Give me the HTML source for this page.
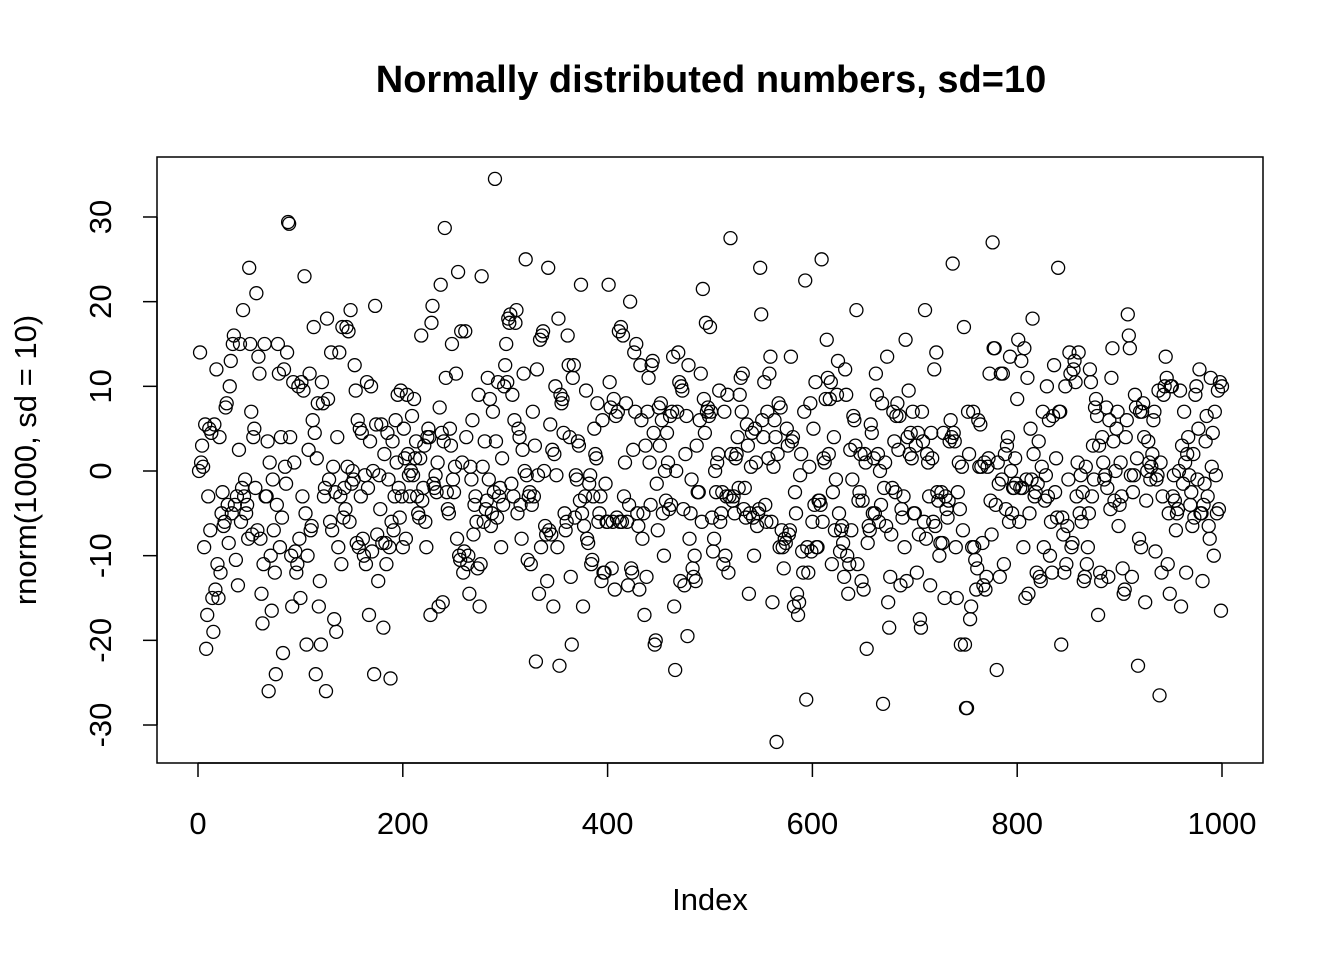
<!DOCTYPE html>
<html><head><meta charset="utf-8"><title>Normally distributed numbers</title>
<style>
html,body{margin:0;padding:0;background:#fff;}
svg{display:block;font-family:"Liberation Sans",Arial,sans-serif;}
</style></head>
<body>
<svg id="chart" width="1344" height="960" viewBox="0 0 1344 960" xmlns="http://www.w3.org/2000/svg">
<rect width="1344" height="960" fill="#fff"/>
<text x="711" y="92" text-anchor="middle" font-size="38" font-weight="bold">Normally distributed numbers, sd=10</text>
<rect x="157" y="157" width="1106" height="606" fill="none" stroke="#000" stroke-width="1.5"/>
<g id="xaxis"></g>
<g id="yaxis"></g>
<text x="710" y="910" text-anchor="middle" font-size="31">Index</text>
<text transform="translate(36,460) rotate(-90)" text-anchor="middle" font-size="31">rnorm(1000, sd = 10)</text>
<g id="points"></g>
</svg>
<script>
const xTicks = [0, 200, 400, 600, 800, 1000];
const yTicks = [-30, -20, -10, 0, 10, 20, 30];
const values = [
0,14,1,3,0.5,-9,5.5,-21,-17,-3,5,-7,4.5,-15,-19,5.5,-14,12,-11,-15,4,-12,-5,-2.5,-6.5,-6,7.5,8,-4,-8.5,10,13,-5,15,16,-4,-10.5,-3,-13.5,2.5,15,-6,-2,19,-3,-1,-5,-4,-8,24,
15,7,-7.5,4,5,-2,21,-7,13.5,11.5,-8,-14.5,-18,-11,15,-3,-3,3.5,-26,1,-10,-16.5,-1,-7,-12,-24,-4,15,11.5,-9,4,-5.5,-21.5,12,0.5,-1.5,14,29.4,29.2,4,-10,-16,10.5,1,-9.5,-12,-11,10,-8,-15,
10.5,-3,9.5,23,-5,-20.5,-10,2.5,11.5,-7,-6.5,6,17,4.5,-24,1.5,8,-16,-13,-20.5,10.5,8,-3,-2,-26,18,8.5,-1,-6,14,-7,0.5,-17.5,-2.5,-19,4,-9,14,-3,-11,17,-5.5,-2,-4.5,17,0.5,16.5,-6,19,-1.5,
0,-1,12.5,9.5,-8.5,6,-9,5,-3,4.5,-8,-10,-0.5,-11,10.5,-2,-17,3.5,10,-9.5,0,-24,19.5,5.5,-7.5,-13,-0.5,-4.5,5.5,-8.5,-18.5,2,-8.5,-11,4.5,-1,-9,-24.5,-6,3.5,-7,-3,6,1,9,-2,-5.5,9.5,-3,-9,
5,1.5,-8,9,2,-0.5,-3,0,6.5,-0.5,8.5,1.5,3.5,-3,-5,-5.5,1.5,16,-3.5,-2,3,-6,-9,4,5,4,-17,17.5,19.5,-1.5,-2,-0.5,-2.5,1,-16,7.5,22,4.5,-15.5,3.5,28.7,11,-2.5,-4.5,-5,5,3,15,-1,-2.5,
0.5,11.5,-8,23.5,-10,-10.5,16.5,1,-12,-9.5,16.5,4,-11,-10,-14.5,0.5,-1,6,-7.5,-4,-3,-6,-11.5,9,-16,-11,23,0.5,-6,3.5,-4.5,-3.5,11,-1,8.5,-6.5,-5,7,-2.5,34.5,3.5,-5.5,10.5,-3,-2,-9,1.5,-4,10,12.5,
15,10.5,18,17.5,18.5,-1.5,9,-3,6,17.5,19,-5,5,4,-4,-8,2.5,11.5,0,25,-0.5,-10.5,-3,-2.5,-11,-4,7,-3,3,-22.5,12,-0.5,-14.5,15.5,-9,16,16.5,0,-6.5,-7.5,-13,24,-7,5.5,-7.5,2.5,-16,2,10,-0.5,
-9,18,-23,9,8,8.5,4.5,-5,-7,-6,16,12.5,4,-12.5,-20.5,11,12.5,-5.5,-0.5,-1,3.5,3,-3.5,22,-5,-16,-6.5,-3,9.5,-8,-8.5,-1.5,-0.5,-11,-10.5,-3,5,2,1.5,8,-6,-5,-3,-13,6,-12,-12,-1.5,-6,-6,
22,10.5,7.5,-11.5,-6,8.5,-14,6.5,-5.5,7,16.5,-6,17,-6,16,-3,1,8,-6,-13.5,-4,20,-11.5,-12,2.5,14,7,15,-5,-6.5,-14,12.5,6,-8,-5,-17,3,-12.5,7,11,1,-4,12.5,13,4.5,-20.5,-20,-1.5,-7,7.5,
3,8,6,-5,-10,0,-3.5,4.5,1,-4.5,6.5,-4,7,13.5,-16,-23.5,0,7,14,10.5,-13,10,9.5,-4.5,-13.5,2,6.5,-19.5,12.5,-8,-5,-1,-11.5,-12.5,-10,-13,3,-2.5,-2.5,6,11.5,-6,21.5,8.5,4.5,17.5,7,7.5,6.5,17,
7,-5.5,-9.5,-8,0,-2.5,1,2,9.5,-6,-5,-2.5,-11,7,-10,-3,9,-12,-3,27.5,2,-3.5,-3,-5,1.5,2,4,-2,9,11,7,11.5,-4.5,-2,-5.5,5.5,3,-14.5,-5,0.5,4.5,-5.5,-10,5,1,-6.5,-5,-4.5,24,18.5,
6,4,10.5,-4,-6,7,1.5,11.5,13.5,-6,-15.5,0.5,6,4,-32,2,8,-9,7.5,-7,-9,-11.5,-8,-8.5,5,3,-7.5,-7,13.5,3.5,4,-16,-2.5,-5,-14.5,-17,-15.5,-0.5,2,-9.5,-12,7,22.5,-27,-9,-12,0.5,8,-9.5,-6,
5,-4,10.5,-9,-9,-3.5,-3.5,-4,25,-6,1.5,1,8.5,15.5,11,2,8.5,10.5,-11,-2.5,4,-7,-1,9,13,-5,-9.5,-7,-6.5,-8.5,-12.5,12,9,-10,-14.5,-11,2.5,-7,-1,6.5,6,3,19,-11,-3.5,-2.5,2,-13,-3.5,-14,
2,1,-21,-8.5,-6.5,-7,5.5,4.5,-5,1.5,-5,11.5,9,2,-6,0,-4,8,-27.5,-2,1,-6.5,13.5,-15.5,-18.5,-12.5,-7.5,-2,7,3.5,-2.5,6.5,8,2.5,6.5,-13.5,-4.5,-5.5,-3,-9,15.5,-13,4,9.5,2,4.5,1.5,7,-5,-5,
3,-12,4.5,-7.5,-17.5,-18.5,7,3.5,-6,19,-8,2,1,-3,-13.5,4.5,1.5,-6,12,-6.5,14,-2.5,-3.5,-10,-8.5,-2.5,-8.5,4.5,-15,-3,-4.5,-5.5,-3.5,3.5,6,4,24.5,4.5,3.5,-9,-15,-2.5,1,-4.5,-20.5,0.5,-7,17,-20.5,-28,
-28,7,2,-17.5,-16,-9,7,-9,-10.5,-14,-11.5,6,0.5,5.5,0.5,-8.5,-13.5,1,-14,-12.5,0.5,1.5,11.5,-3.5,-7.5,27,14.5,14.5,-4,-23.5,1,-1.5,-12.5,11.5,-1,11.5,-11,2,-4.5,3,4,-6,13.5,0,-5,-2,-2,1.5,-1.5,8.5,
15.5,-6,-2,13,-2,-9,14.5,-15,-1,11,-14.5,-5,5,-1,18,2,-3,-2.5,-12,-1.5,3.5,-12.5,-13,0.5,7,-9,-3.5,-0.5,10,-3,6,-10,-6,-12,6.5,12.5,-2.5,1.5,-5.5,24,7,7,-20.5,-5.5,-7.5,-12,10,-11,-6.5,-1,
14,11.5,-9,-8.5,12,13,10.5,-3,1,14,-5,-0.5,-6,-2.5,-13,-12.5,0.5,-11,-9,-5,12,10.5,-3,3,-1,7.5,8.5,6.5,-17,3,-12,-13,4,1,-1,-0.5,7.5,-2,-12.5,6,-4.5,11,14.5,3.5,-3.5,0,5,7,-6.5,-4,
1,-3,-11.5,-14.5,-14,4,6,18.5,16,14.5,-0.5,-12.5,-2.5,-0.5,9,7.5,1.5,-23,-8,7,-9,7,8,4,-15.5,-3.5,0,3.5,1,-1,0.5,2,6,7,-9.5,-1,-0.5,9.5,-26.5,1,-12,-3,9,10,13.5,11,-11,-5,-14.5,10,
10,-3,-0.5,-3.5,-7,-5,-4.5,0,9.5,-16,3,-1.5,7,1,-12,2,4,-0.5,-4,-2.5,-6.5,2,-5.5,9,10,-1,5,12,-5,-5,-13,-4,-1.5,3.5,6.5,-3,-6.5,-8,11,0.5,4.5,-10,7,-0.5,-5,9.5,-4.5,10.5,-16.5,10
];
const NS = 'http://www.w3.org/2000/svg';
function xScale(i){ return 198 + (i) * 1.024; }
function yScale(v){ return 471 - v * 8.467; }
function mk(tag, attrs){ const e = document.createElementNS(NS, tag); for (const k in attrs) e.setAttribute(k, attrs[k]); return e; }
const xg = document.getElementById('xaxis');
const xl = mk('line', {x1: xScale(xTicks[0]), x2: xScale(xTicks[xTicks.length-1]), y1: 763, y2: 763, stroke: '#000', 'stroke-width': 1.5});


xg.appendChild(xl);
xTicks.forEach(t => {
  const tk = mk('line', {x1: xScale(t), x2: xScale(t), y1: 763, y2: 777, stroke: '#000', 'stroke-width': 1.5});
  
  
  xg.appendChild(tk);
  const tx = mk('text', {x: xScale(t), y: 834, 'text-anchor': 'middle', 'font-size': 31});
  
  
  tx.textContent = t;
  xg.appendChild(tx);
});
const yg = document.getElementById('yaxis');
const yl = mk('line', {x1: 157, x2: 157, y1: yScale(yTicks[0]), y2: yScale(yTicks[yTicks.length-1]), stroke: '#000', 'stroke-width': 1.5});


yg.appendChild(yl);
yTicks.forEach(t => {
  const tk = mk('line', {x1: 143, x2: 157, y1: yScale(t), y2: yScale(t), stroke: '#000', 'stroke-width': 1.5});
  
  
  yg.appendChild(tk);
  const tx = mk('text', {transform: 'translate(111,' + yScale(t) + ') rotate(-90)', 'text-anchor': 'middle', 'font-size': 31});
  
  
  tx.textContent = t;
  yg.appendChild(tx);
});
const pg = document.getElementById('points');
values.forEach((v, i) => {
  const c = mk('circle', {cx: xScale(i + 1), cy: yScale(v), r: 6.5, fill: 'none', stroke: '#000', 'stroke-width': 1.3});
  
  
  pg.appendChild(c);
});
</script>
</body></html>
